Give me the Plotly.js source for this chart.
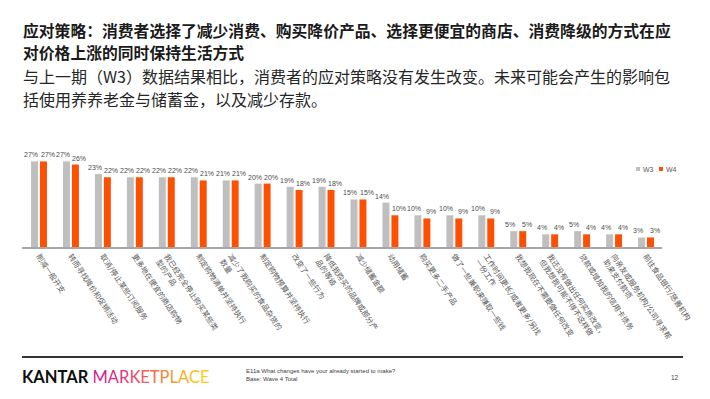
<!DOCTYPE html>
<html>
<head>
<meta charset="utf-8">
<script src="https://cdn.plot.ly/plotly-3.0.1.min.js"></script>
<style>
html,body{margin:0;padding:0;background:#fff;}
#chart{width:710px;height:399px;}
</style>
</head>
<body>
<div id="chart"></div>
<script>
const categories = [
  "削减一般开支",
  "转而寻找降价和促销活动",
  "取消/停止某些订阅服务",
  "更多地在便宜的商店购物",
  "我已经完全停止购买某些类<br>型的产品",
  "制定购物清单并坚持执行",
  "减少了我购买的食品杂货的<br>数量",
  "制定购物预算并坚持执行",
  "改变了一些行为",
  "降低我购买的品牌或部分产<br>品的等级",
  "减少储蓄金额",
  "动用储蓄",
  "购买更多二手产品",
  "做了一些兼职来赚取一些钱",
  "工作时间更长/或者更多/另找<br>一份工作",
  "我想我现在不需要做任何改变",
  "我还没有做出任何实质改变，<br>但我想我可能不得不这样做",
  "贷款或增加我的信用卡债务",
  "向亲友或服务机构/公司寻求帮<br>助来支付款项",
  "前往食品银行/慈善机构"
];
const w3 = [27,27,23,22,22,22,21,20,19,19,15,14,10,10,10,5,4,5,4,3];
const w4 = [27,26,22,22,22,21,21,20,18,18,15,10,9,9,9,5,4,4,4,3];
const seriesNames = ["W3","W4"];
const seriesColors = ["#bfbfbf","#fe5000"];

const titleLines = [
  "应对策略：消费者选择了减少消费、购买降价产品、选择更便宜的商店、消费降级的方式在应",
  "对价格上涨的同时保持生活方式"
];
const subtitleLines = [
  "与上一期（W3）数据结果相比，消费者的应对策略没有发生改变。未来可能会产生的影响包",
  "括使用养养老金与储蓄金，以及减少存款。"
];

const labelFont = {family:"Liberation Sans, Arial, sans-serif", size:7, color:"#4d4d4d"};
const tickFont = {family:"Noto Sans CJK SC, sans-serif", size:7.5, color:"#595959"};

const traces = [0,1].map(i => ({
  type:"bar", name:seriesNames[i], x:categories, y:[w3,w4][i],
  marker:{color:seriesColors[i]}, hoverinfo:"skip"
}));

const plotTop = 150, plotBottom = 247, plotH = plotBottom - plotTop;
const py = (pix) => (plotBottom - pix) / plotH;
const plotLeft = 22, plotRight = 662, plotW = plotRight - plotLeft;
const px = (pix) => (pix - plotLeft) / plotW;

// value labels above each bar, pushed slightly apart so the pair does not collide
const valueLabels = [];
[w3, w4].forEach((vals, s) => {
  vals.forEach((v, i) => {
    valueLabels.push({
      xref:"x", yref:"y", x:categories[i], y:v, xanchor:"center", yanchor:"bottom",
      xshift: s === 0 ? -8 : 8.5, yshift: 1, showarrow:false, font:labelFont,
      text: v + "%"
    });
  });
});

const cjk = "Noto Sans CJK SC, sans-serif";
const mk = ["#d41f8f","#dc2a85","#e4377a","#ea4a6c","#ef5c5c","#f2704b","#f5833c","#f7982f","#f8ad24","#f9c21b","#fad016"];
const mkt = "MARKETPLACE".split("").map((c,i)=>`<span style="color:${mk[i]}">${c}</span>`).join("");

const legendShapes = [
  {type:"rect", xref:"paper", yref:"paper", x0:px(636), x1:px(640), y0:py(171), y1:py(167),
   fillcolor:seriesColors[0], line:{width:0}},
  {type:"rect", xref:"paper", yref:"paper", x0:px(659), x1:px(663), y0:py(171), y1:py(167),
   fillcolor:seriesColors[1], line:{width:0}}
];
const legendText = [
  {xref:"paper", yref:"paper", x:px(641), y:py(169), xanchor:"left", yanchor:"middle", showarrow:false,
   font:{family:"Liberation Sans, Arial, sans-serif", size:7, color:"#595959"}, text:seriesNames[0]},
  {xref:"paper", yref:"paper", x:px(664), y:py(169), xanchor:"left", yanchor:"middle", showarrow:false,
   font:{family:"Liberation Sans, Arial, sans-serif", size:7, color:"#595959"}, text:seriesNames[1]}
];

const headText = [
  {y:31, txt:"<b>"+titleLines[0]+"</b>", size:15.8, color:"#1a1a1a"},
  {y:52, txt:"<b>"+titleLines[1]+"</b>", size:15.8, color:"#1a1a1a"},
  {y:76, txt:subtitleLines[0], size:16, color:"#262626"},
  {y:99, txt:subtitleLines[1], size:16, color:"#262626"}
].map(h => ({xref:"paper", yref:"paper", x:px(21), y:py(h.y), xanchor:"left", yanchor:"middle",
   align:"left", showarrow:false, font:{family:cjk, size:h.size, color:h.color}, text:h.txt}));

const layout = {
  width:710, height:399,
  margin:{l:plotLeft, r:710-plotRight, t:plotTop, b:399-plotBottom, pad:0, autoexpand:false},
  paper_bgcolor:"#ffffff", plot_bgcolor:"#ffffff",
  barmode:"group", bargap:0.44, bargroupgap:0.22,
  showlegend:false,
  xaxis:{showline:true, linecolor:"#a6a6a6", linewidth:2, ticks:"", tickangle:56,
         tickfont:tickFont, showgrid:false, zeroline:false, fixedrange:true, automargin:false},
  yaxis:{range:[0,30.6], visible:false, showgrid:false, zeroline:false, fixedrange:true},
  shapes:[
    {type:"line", xref:"paper", yref:"paper", x0:px(22), x1:px(683), y0:py(357), y1:py(357),
     line:{color:"#333333", width:2}}
  ].concat(legendShapes),
  annotations:[
    {xref:"paper", yref:"paper", x:px(20), y:py(377), xanchor:"left", yanchor:"middle",
     showarrow:false, font:{family:"Lato, Arial, sans-serif", size:16.5, color:"#111111"},
     text:"<b>KANTAR</b> " + mkt},
    {xref:"paper", yref:"paper", x:px(244), y:py(375), xanchor:"left", yanchor:"middle", align:"left",
     showarrow:false, font:{family:"Liberation Sans, Arial, sans-serif", size:6, color:"#404040"},
     text:"E11a What changes have your already started to make?<br>Base: Wave 4 Total"},
    {xref:"paper", yref:"paper", x:px(681), y:py(377), xanchor:"right", yanchor:"middle",
     showarrow:false, font:{family:"Liberation Sans, Arial, sans-serif", size:6.5, color:"#404040"},
     text:"12"}
  ].concat(headText, legendText, valueLabels)
};

Plotly.newPlot("chart", traces, layout, {staticPlot:true, displayModeBar:false});
</script>
</body>
</html>
